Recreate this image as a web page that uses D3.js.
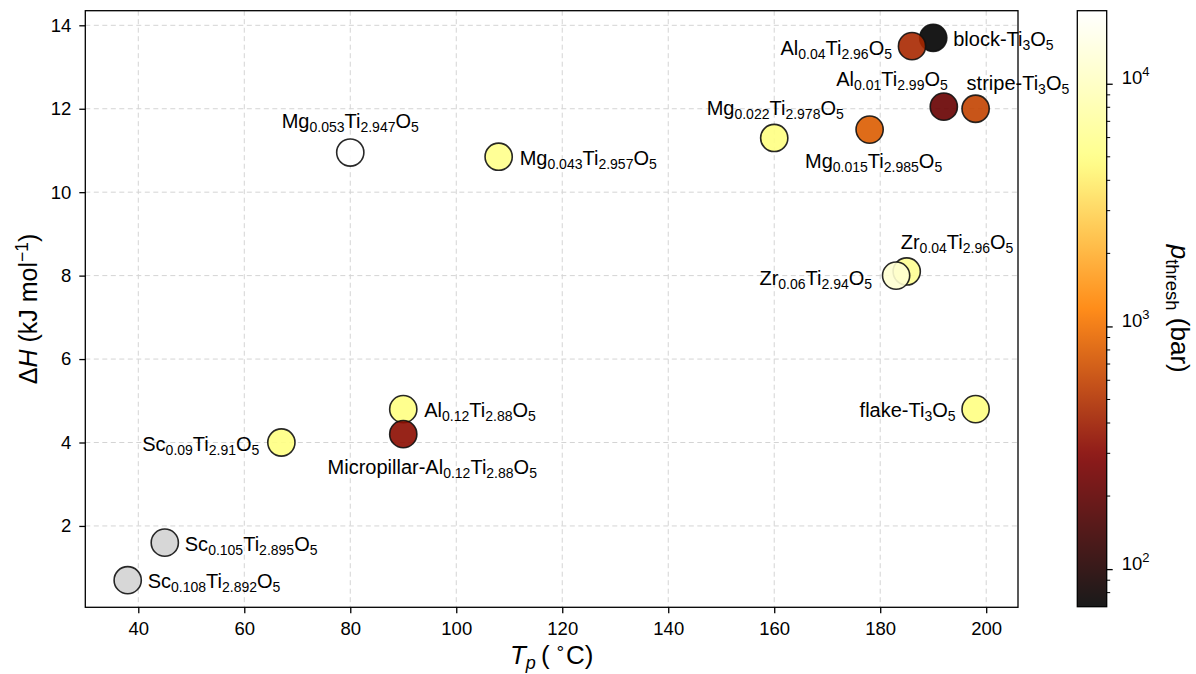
<!DOCTYPE html>
<html>
<head>
<meta charset="utf-8">
<script src="https://cdn.jsdelivr.net/npm/d3@7"></script>
<style>
  body { margin: 0; background: #fff; }
  text { font-family: "Liberation Sans", Arial, Helvetica, sans-serif; fill: #000; }
</style>
</head>
<body>
<svg id="chart" width="1196" height="674"></svg>
<script>
// Compound names (with _{...} marking subscripts)
const compounds = [
  "block-Ti_{3}O_{5}", "Al_{0.04}Ti_{2.96}O_{5}", "Al_{0.01}Ti_{2.99}O_{5}", "stripe-Ti_{3}O_{5}",
  "Mg_{0.015}Ti_{2.985}O_{5}", "Mg_{0.022}Ti_{2.978}O_{5}", "Mg_{0.043}Ti_{2.957}O_{5}", "Mg_{0.053}Ti_{2.947}O_{5}",
  "Zr_{0.04}Ti_{2.96}O_{5}", "Zr_{0.06}Ti_{2.94}O_{5}", "flake-Ti_{3}O_{5}", "Al_{0.12}Ti_{2.88}O_{5}",
  "Micropillar-Al_{0.12}Ti_{2.88}O_{5}", "Sc_{0.09}Ti_{2.91}O_{5}", "Sc_{0.105}Ti_{2.895}O_{5}", "Sc_{0.108}Ti_{2.892}O_{5}"
];
// Peak temperature T_p (°C)
const tp = [190, 186, 192, 198, 178, 160, 108, 80, 185, 183, 198, 90, 90, 67, 45, 38];
// Enthalpy ΔH (kJ/mol)
const dH = [13.7, 13.5, 12.05, 12.0, 11.5, 11.3, 10.85, 10.95, 8.1, 8.0, 4.8, 4.8, 4.2, 4.0, 1.6, 0.7];
// Threshold pressure p_thresh (bar); null = not measured
const pThresh = [70, 450, 220, 600, 800, 5000, 5500, 20000, 6000, 12000, 5000, 5000, 330, 5000, null, null];

const xTicks = [40, 60, 80, 100, 120, 140, 160, 180, 200];
const yTicks = [2, 4, 6, 8, 10, 12, 14];
const cbMajorTicks = [100, 1000, 10000];
const cbMinorTicks = [80, 90, 200, 300, 400, 500, 600, 700, 800, 900,
                      2000, 3000, 4000, 5000, 6000, 7000, 8000, 9000];

// Label placement: [anchor, dx, dy] in pixels relative to the marker
const labelPlacement = [
  ["start", 20, 1], ["end", -20, 2], ["end", 4, -28], ["start", -9, -26],
  ["middle", 4, 31], ["middle", 1, -30], ["start", 21, 1], ["middle", 0, -32],
  ["start", -6, -29], ["end", -24, 2], ["end", -20, 1], ["start", 21, 1],
  ["middle", 29, 33], ["end", -22, 1], ["start", 20, 1], ["start", 20, 1]
];

const svg = d3.select("#chart");
const plot = { left: 85.3, right: 1018, top: 10.7, bottom: 607.3 };
const cb = { left: 1077.3, width: 29.4, top: 10.7, bottom: 606.7 };

const x = d3.scaleLinear().domain([30, 206]).range([plot.left, plot.right]);
const y = d3.scaleLinear().domain([0.05, 14.35]).range([plot.bottom, plot.top]);

const pVals = pThresh.filter(v => v != null);
const pExtent = d3.extent(pVals);
const norm = d3.scaleLog().domain(pExtent).range([0, 1]).clamp(true);
const cbScale = d3.scaleLog().domain(pExtent).range([cb.bottom, cb.top]);

// afmhot colormap
function afmhot(t) {
  const c = v => Math.round(255 * Math.max(0, Math.min(1, v)));
  return `rgb(${c(2 * t)},${c(2 * t - 0.5)},${c(2 * t - 1)})`;
}
const fillFor = p => (p == null ? "#d3d3d3" : afmhot(norm(p)));

// Rich text with subscripts _{..} and superscripts ^{..}
function richText(sel, markup, size, smallSize, subShift, supShift) {
  const re = /_\{([^}]*)\}|\^\{([^}]*)\}|([^_^]+)/g;
  let m, offset = 0;
  while ((m = re.exec(markup))) {
    if (m[1] !== undefined) {
      sel.append("tspan").attr("font-size", smallSize).attr("dy", subShift - offset).text(m[1]);
      offset = subShift;
    } else if (m[2] !== undefined) {
      sel.append("tspan").attr("font-size", smallSize).attr("dy", -supShift - offset).text(m[2]);
      offset = -supShift;
    } else {
      sel.append("tspan").attr("font-size", size).attr("dy", -offset).text(m[3]);
      offset = 0;
    }
  }
}

// Grid
const grid = svg.append("g").attr("stroke", "#d4d4d4").attr("stroke-width", 1).attr("stroke-dasharray", "5,3.5");
grid.selectAll("line.gx").data(xTicks).join("line")
  .attr("x1", d => x(d)).attr("x2", d => x(d)).attr("y1", plot.top).attr("y2", plot.bottom);
grid.selectAll("line.gy").data(yTicks).join("line")
  .attr("y1", d => y(d)).attr("y2", d => y(d)).attr("x1", plot.left).attr("x2", plot.right);

// Axes
const xAxis = svg.append("g").attr("transform", `translate(0,${plot.bottom})`)
  .call(d3.axisBottom(x).tickValues(xTicks).tickSize(6).tickPadding(9).tickFormat(d3.format("d")));
const yAxis = svg.append("g").attr("transform", `translate(${plot.left},0)`)
  .call(d3.axisLeft(y).tickValues(yTicks).tickSize(6).tickPadding(8).tickFormat(d3.format("d")));
[xAxis, yAxis].forEach(a => {
  a.select(".domain").remove();
  a.selectAll(".tick line").attr("stroke", "#000").attr("stroke-width", 1.3);
  a.selectAll(".tick text").attr("font-size", 18.5).attr("font-family", null).attr("fill", "#000");
});

// Points
const idx = d3.range(compounds.length);
svg.append("g").selectAll("circle").data(idx).join("circle")
  .attr("cx", i => x(tp[i])).attr("cy", i => y(dH[i])).attr("r", 13.6)
  .attr("fill", i => fillFor(pThresh[i])).attr("fill-opacity", 0.9)
  .attr("stroke", "#111").attr("stroke-opacity", 0.9).attr("stroke-width", 1.6);

// Labels
const labels = svg.append("g");
idx.forEach(i => {
  const [anchor, dx, dy] = labelPlacement[i];
  const t = labels.append("text")
    .attr("x", x(tp[i]) + dx).attr("y", y(dH[i]) + dy + 7)
    .attr("text-anchor", anchor);
  richText(t, compounds[i], 20, 14, 4, 8);
});

// Plot frame
svg.append("rect").attr("x", plot.left).attr("y", plot.top)
  .attr("width", plot.right - plot.left).attr("height", plot.bottom - plot.top)
  .attr("fill", "none").attr("stroke", "#000").attr("stroke-width", 1.3);

// Axis titles
const xl = svg.append("text").attr("x", (plot.left + plot.right) / 2).attr("y", 664)
  .attr("text-anchor", "middle").attr("font-size", 26);
xl.append("tspan").attr("font-style", "italic").text("T");
xl.append("tspan").attr("font-style", "italic").attr("font-size", 18).attr("dy", 5).text("p");
xl.append("tspan").attr("dy", -5).text("\u2009(\u2009");
xl.append("tspan").attr("font-size", 17).attr("dy", -11).text("\u2218");
xl.append("tspan").attr("dy", 11).text("C)");

const yl = svg.append("text").attr("transform", `translate(37,${(plot.top + plot.bottom) / 2}) rotate(-90)`)
  .attr("text-anchor", "middle").attr("font-size", 25);
yl.append("tspan").text("\u0394");
yl.append("tspan").attr("font-style", "italic").text("H");
yl.append("tspan").text(" (kJ mol");
yl.append("tspan").attr("font-size", 17.5).attr("dy", -9).text("\u22121");
yl.append("tspan").attr("dy", 9).text(")");

// Colorbar
const defs = svg.append("defs");
const grad = defs.append("linearGradient").attr("id", "cbgrad")
  .attr("x1", 0).attr("y1", 1).attr("x2", 0).attr("y2", 0);
d3.range(0, 1.0001, 0.02).forEach(t => {
  grad.append("stop").attr("offset", t).attr("stop-color", afmhot(t)).attr("stop-opacity", 0.9);
});
svg.append("rect").attr("x", cb.left).attr("y", cb.top).attr("width", cb.width)
  .attr("height", cb.bottom - cb.top).attr("fill", "url(#cbgrad)");

const cbAxis = svg.append("g").attr("transform", `translate(${cb.left + cb.width},0)`)
  .call(d3.axisRight(cbScale).tickValues(cbMajorTicks).tickSize(6).tickPadding(9).tickFormat(""));
cbAxis.select(".domain").remove();
cbAxis.selectAll(".tick line").attr("stroke", "#000").attr("stroke-width", 1.3);
cbAxis.selectAll(".tick text").each(function (d) {
  const t = d3.select(this).attr("font-size", 18.5).attr("font-family", null).attr("fill", "#000").attr("dy", "0.45em");
  richText(t, "10^{" + Math.round(Math.log10(d)) + "}", 18.5, 13, 4, 8);
});
svg.append("g").attr("stroke", "#000").attr("stroke-width", 1)
  .selectAll("line").data(cbMinorTicks.filter(v => v > pExtent[0] * 1.01 && v < pExtent[1] / 1.01)).join("line")
  .attr("x1", cb.left + cb.width).attr("x2", cb.left + cb.width + 3.5)
  .attr("y1", d => cbScale(d)).attr("y2", d => cbScale(d));

svg.append("rect").attr("x", cb.left).attr("y", cb.top).attr("width", cb.width)
  .attr("height", cb.bottom - cb.top).attr("fill", "none").attr("stroke", "#000").attr("stroke-width", 1.3);

const cl = svg.append("text").attr("transform", `translate(1171,${(cb.top + cb.bottom) / 2}) rotate(90)`)
  .attr("text-anchor", "middle").attr("font-size", 26);
cl.append("tspan").attr("font-style", "italic").text("p");
cl.append("tspan").attr("font-size", 18.5).attr("dy", 5).text("thresh");
cl.append("tspan").attr("dy", -5).text(" (bar)");
</script>
</body>
</html>
